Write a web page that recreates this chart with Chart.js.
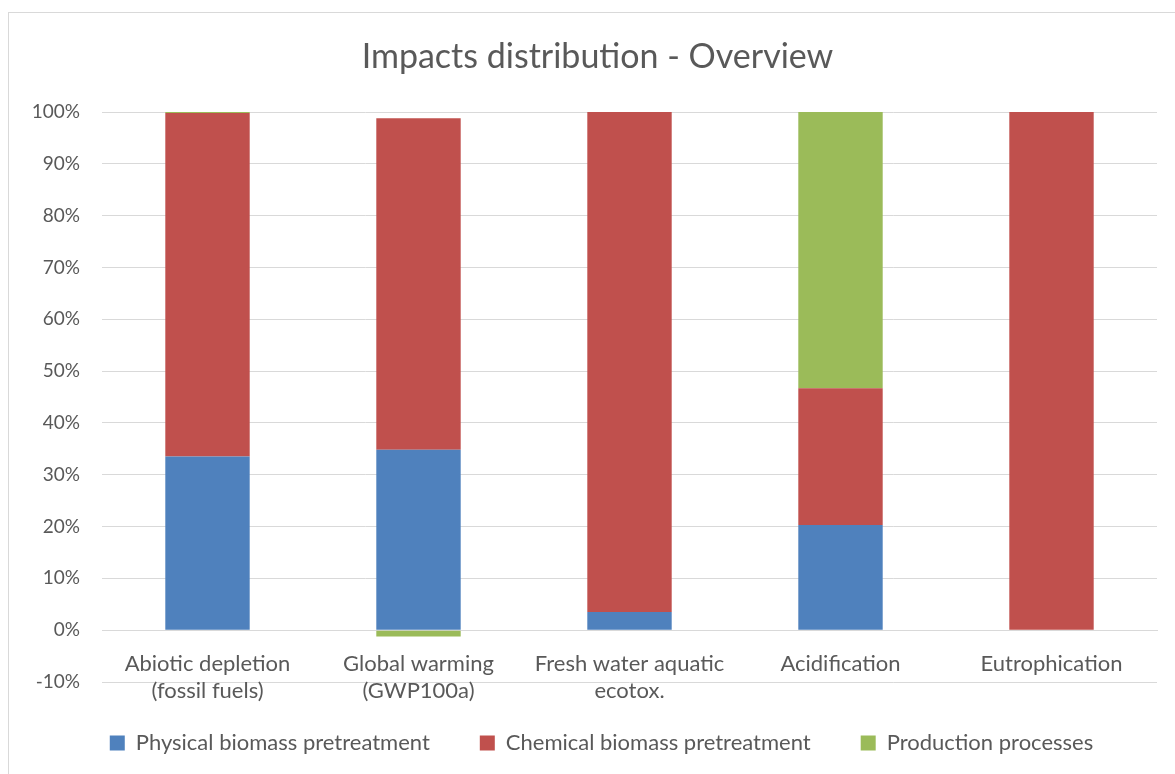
<!DOCTYPE html>
<html>
<head>
<meta charset="utf-8">
<script src="https://cdn.jsdelivr.net/npm/chart.js@4/dist/chart.umd.min.js"></script>
<style>
  html, body { margin: 0; padding: 0; background: #fff; }
  #wrap { width: 1175px; height: 774px; }
</style>
</head>
<body>
<div id="wrap"><canvas id="chart"></canvas></div>
<script>
const categories = [
    ["Abiotic depletion", "(fossil fuels)"],
    ["Global warming", "(GWP100a)"],
    ["Fresh water aquatic", "ecotox."],
    "Acidification",
    "Eutrophication"
];
const physical = [33.5, 34.8, 3.5, 20.3, 0];
const chemical = [66.3, 64.0, 96.5, 26.4, 100];
const production = [0.2, -1.2, 0, 53.3, 0];

const fontFamily = "Lato, 'Open Sans', sans-serif";
const textColor = "#595959";

// light frame round the chart, like the spreadsheet chart border
const frame = {
    id: 'frame',
    beforeDraw(chart) {
        const ctx = chart.ctx;
        ctx.save();
        ctx.strokeStyle = "#d9d9d9";
        ctx.lineWidth = 1;
        ctx.strokeRect(8.5, 12.5, 1300, 900);
        ctx.restore();
    },
    // title and legend are centred on the whole frame, not the canvas
    afterLayout(chart) {
        const shift = (box, dx) => {
            if (!box) return;
            box.left += dx;
            box.right += dx;
        };
        shift(chart.titleBlock, 19);
        shift(chart.legend, 23);
        if (chart.legend && chart.legend.legendHitBoxes) {
            chart.legend.legendHitBoxes.forEach(h => { h.left += 23; });
        }
    }
};

new Chart(document.getElementById('chart'), {
    type: 'bar',
    data: {
        labels: categories,
        datasets: [
            {label: "Physical biomass pretreatment", data: physical, backgroundColor: "#4f81bd"},
            {label: "Chemical biomass pretreatment", data: chemical, backgroundColor: "#c0504d"},
            {label: "Production processes", data: production, backgroundColor: "#9bbb59"}
        ]
    },
    options: {
        responsive: true,
        maintainAspectRatio: false,
        animation: false,
        layout: {padding: {left: 0, right: 18, top: 0, bottom: 10}},
        datasets: {bar: {categoryPercentage: 1, barPercentage: 0.4, borderWidth: 0}},
        scales: {
            x: {
                stacked: true,
                position: {y: 0},
                grid: {display: false},
                border: {display: true, color: "#d9d9d9"},
                ticks: {color: textColor, font: {family: fontFamily, size: 22}, padding: 13, maxRotation: 0}
            },
            y: {
                stacked: true,
                min: -10,
                max: 100,
                ticks: {
                    stepSize: 10,
                    color: textColor,
                    font: {family: fontFamily, size: 19},
                    padding: 22,
                    callback: v => v + "%"
                },
                grid: {color: "#d9d9d9", drawTicks: false},
                border: {display: false},
                afterFit: s => { s.width = 102; }
            }
        },
        plugins: {
            title: {
                display: true,
                text: "Impacts distribution - Overview",
                color: textColor,
                font: {family: fontFamily, size: 34, weight: 'normal'},
                padding: {top: 36.6, bottom: 34.6}
            },
            legend: {
                position: 'bottom',
                labels: {
                    color: textColor,
                    font: {family: fontFamily, size: 22},
                    boxWidth: 15,
                    boxHeight: 15,
                    padding: 50
                }
            },
            tooltip: {enabled: false}
        }
    },
    plugins: [frame]
});
</script>
</body>
</html>
